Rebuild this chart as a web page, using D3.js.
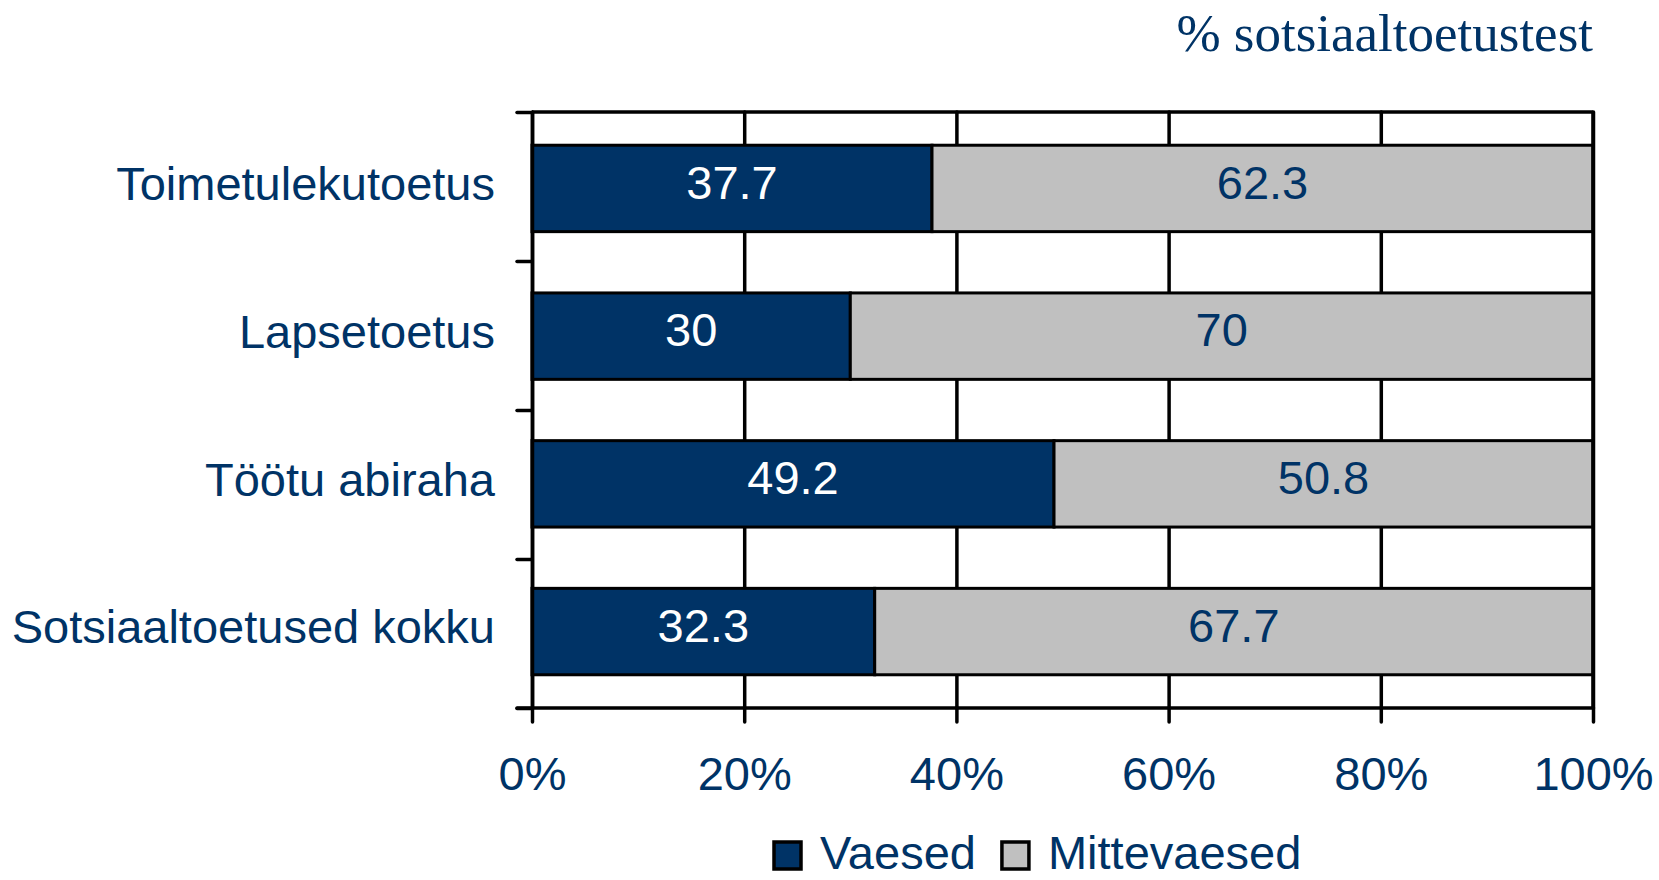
<!DOCTYPE html>
<html>
<head>
<meta charset="utf-8">
<script src="https://cdn.jsdelivr.net/npm/d3@7"></script>
<style>
  body { margin: 0; background: #fff; }
  svg text { font-family: "Liberation Sans", Arial, sans-serif; fill: #003366; }
  .axis path, .axis line { stroke: #000; stroke-width: 3.5; stroke-linecap: round; }
</style>
</head>
<body>
<div id="chart"></div>
<script>
var categories = ["Toimetulekutoetus", "Lapsetoetus", "Töötu abiraha", "Sotsiaaltoetused kokku"];
var vaesed = [37.7, 30, 49.2, 32.3];
var mittevaesed = [62.3, 70, 50.8, 67.7];
var seriesNames = ["Vaesed", "Mittevaesed"];
var xTicks = [0, 20, 40, 60, 80, 100];
var title = "% sotsiaaltoetustest";

var W = 1659, H = 880;
var margin = {top: 112, right: 66, bottom: 172, left: 532};
var w = W - margin.left - margin.right;
var h = H - margin.top - margin.bottom;

var color = d3.scaleOrdinal().domain(seriesNames).range(["#003366", "#C0C0C0"]);
var labelColor = d3.scaleOrdinal().domain(seriesNames).range(["#ffffff", "#003366"]);

var x = d3.scaleLinear().domain([0, 100]).range([0, w]);
var y = d3.scaleBand().domain(categories).range([0, h]).paddingInner(0.415).paddingOuter(0.225);
// band boundaries for the left ticks
var yEdge = d3.scaleLinear().domain([0, categories.length]).range([0, h]);

var svg = d3.select("#chart").append("svg")
  .attr("width", W)
  .attr("height", H);

var g = svg.append("g")
  .attr("transform", "translate(" + margin.left + "," + margin.top + ")");

var data = categories.map(function(c, i) {
  return {cat: c, Vaesed: vaesed[i], Mittevaesed: mittevaesed[i]};
});
var stacked = d3.stack().keys(seriesNames)(data);

// vertical gridlines
g.append("g")
  .attr("class", "axis grid")
  .call(d3.axisTop(x).tickValues(xTicks).tickSize(-h).tickFormat(""))
  .call(function(s) { s.select(".domain").remove(); });

// top border
g.append("line")
  .attr("x1", 0).attr("x2", w).attr("y1", 0).attr("y2", 0)
  .attr("stroke", "#000").attr("stroke-width", 3.5);

// bars
var layer = g.selectAll(".layer")
  .data(stacked)
  .enter().append("g")
  .attr("class", "layer");

layer.selectAll("rect")
  .data(function(d) { return d.map(function(v) { return {key: d.key, v: v}; }); })
  .enter().append("rect")
  .attr("x", function(d) { return x(d.v[0]); })
  .attr("y", function(d) { return y(d.v.data.cat); })
  .attr("width", function(d) { return x(d.v[1]) - x(d.v[0]); })
  .attr("height", y.bandwidth())
  .attr("fill", function(d) { return color(d.key); })
  .attr("stroke", "#000")
  .attr("stroke-width", 3);

layer.selectAll("text")
  .data(function(d) { return d.map(function(v) { return {key: d.key, v: v}; }); })
  .enter().append("text")
  .attr("x", function(d) { return (x(d.v[0]) + x(d.v[1])) / 2; })
  .attr("y", function(d) { return y(d.v.data.cat) + y.bandwidth() / 2; })
  .attr("dy", "0.22em")
  .attr("text-anchor", "middle")
  .style("font-size", "47px")
  .style("fill", function(d) { return labelColor(d.key); })
  .text(function(d) { return d.v.data[d.key]; });

// x axis
var xAxis = g.append("g")
  .attr("class", "axis x")
  .attr("transform", "translate(0," + h + ")")
  .call(d3.axisBottom(x).tickValues(xTicks).tickSizeInner(14).tickSizeOuter(0).tickPadding(35)
    .tickFormat(function(d) { return d + "%"; }));
xAxis.select(".domain").attr("d", "M-15,0H" + w);
xAxis.selectAll("text").style("font-size", "47px").attr("fill", null);

// y axis: ticks on band edges, labels at band centres
var yAxis = g.append("g")
  .attr("class", "axis y")
  .call(d3.axisLeft(yEdge).ticks(categories.length).tickSizeInner(15).tickSizeOuter(0).tickFormat(""));

g.append("g")
  .attr("class", "ylabels")
  .selectAll("text")
  .data(categories)
  .enter().append("text")
  .attr("x", -37)
  .attr("y", function(d) { return y(d) + y.bandwidth() / 2; })
  .attr("dy", "0.25em")
  .attr("text-anchor", "end")
  .style("font-size", "47px")
  .text(function(d) { return d; });

// right border
g.append("line")
  .attr("x1", w).attr("x2", w).attr("y1", 0).attr("y2", h)
  .attr("stroke", "#000").attr("stroke-width", 3.5);

// title
svg.append("text")
  .attr("x", margin.left + w)
  .attr("y", 51)
  .attr("text-anchor", "end")
  .style("font-family", "'Liberation Serif', 'Times New Roman', serif")
  .style("font-size", "53px")
  .text(title);

// legend
var legend = svg.append("g").attr("class", "legend");
var lx = 774;
seriesNames.forEach(function(name) {
  legend.append("rect")
    .attr("x", lx).attr("y", 842)
    .attr("width", 27).attr("height", 27)
    .attr("fill", color(name))
    .attr("stroke", "#000")
    .attr("stroke-width", 3.5);
  var t = legend.append("text")
    .attr("x", lx + 46)
    .attr("y", 869)
    .style("font-size", "47px")
    .text(name);
  lx += 46 + t.node().getComputedTextLength() + 26;
});
</script>
</body>
</html>
